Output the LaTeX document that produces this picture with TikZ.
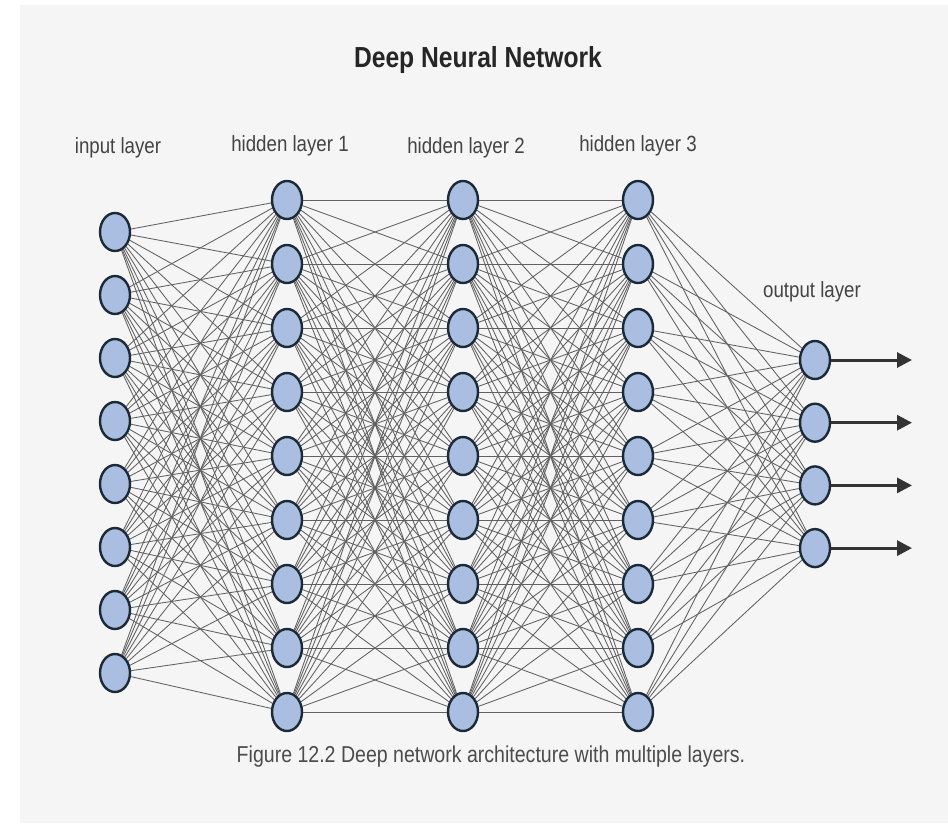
\documentclass[tikz,border=0pt]{standalone}
\usepackage{fontspec}
\setmainfont{Liberation Sans}
\newfontfamily\narrowfont[FakeStretch=0.85]{Liberation Sans}
\usepackage{xcolor}
\usepackage{tikz}
\usetikzlibrary{shapes.geometric,arrows.meta,backgrounds}

\definecolor{panel}{HTML}{F5F5F5}
\definecolor{neuronfill}{RGB}{170,190,225}
\definecolor{neurondraw}{HTML}{1C2A38}
\definecolor{labelgray}{HTML}{444444}

\begin{document}
\begin{tikzpicture}[x=1pt,y=-1pt]
      \tikzset{neuron/.style={ellipse,draw=neurondraw,fill=neuronfill,line width=2.4pt,minimum width=30pt,minimum height=38pt,inner sep=0pt}}
      \tikzset{link/.style={draw=black!62,line width=0.85pt}}
      \tikzset{outarrow/.style={draw=black!80,line width=3pt,-{Triangle[length=15pt,width=15pt]}}}
      \tikzset{layername/.style={text=labelgray,font=\narrowfont\fontsize{22}{24}\selectfont}}

      \useasboundingbox (0,0) rectangle (948,823);

      % title and caption
      \node[font=\narrowfont\bfseries\fontsize{29}{32}\selectfont,text=black!85] (title) at (478,60) {Deep Neural Network};
      \node[font=\narrowfont\fontsize{23}{26}\selectfont,text=black!70] (caption) at (491,757) {Figure 12.2 Deep network architecture with multiple layers.};

      % layer names
      \node[layername] (lin) at (118,148) {input layer};
      \node[layername] (lha) at (290,146) {hidden layer 1};
      \node[layername] (lhb) at (466,148) {hidden layer 2};
      \node[layername] (lhc) at (638,146) {hidden layer 3};
      \node[layername] (lout) at (812,292) {output layer};

      % neurons
      \foreach \i in {1,...,8}
        \node[neuron] (in\i) at (115,{232+63*(\i-1)}) {};
      \foreach \l/\x in {ha/287,hb/463,hc/638}
        \foreach \i in {1,...,9}
          \node[neuron] (\l\i) at (\x,{200+64*(\i-1)}) {};
      \foreach \i in {1,...,4} {
        \node[neuron] (out\i) at (815,{360+62.7*(\i-1)}) {};
        \coordinate (end\i) at (912,{360+62.7*(\i-1)});
        \draw[outarrow] (out\i) -- (end\i);
      }

      % connections
      \begin{pgfonlayer}{background}
        \fill[panel] (20,5) rectangle (948,823);
        \foreach \i in {1,...,8}
          \foreach \j in {1,...,9}
            \draw[link] (in\i) -- (ha\j);
        \foreach \i in {1,...,9}
          \foreach \j in {1,...,9} {
            \draw[link] (ha\i) -- (hb\j);
            \draw[link] (hb\i) -- (hc\j);
          }
        \foreach \i in {1,...,9}
          \foreach \j in {1,...,4}
            \draw[link] (hc\i) -- (out\j);
      \end{pgfonlayer}
\end{tikzpicture}
\end{document}
